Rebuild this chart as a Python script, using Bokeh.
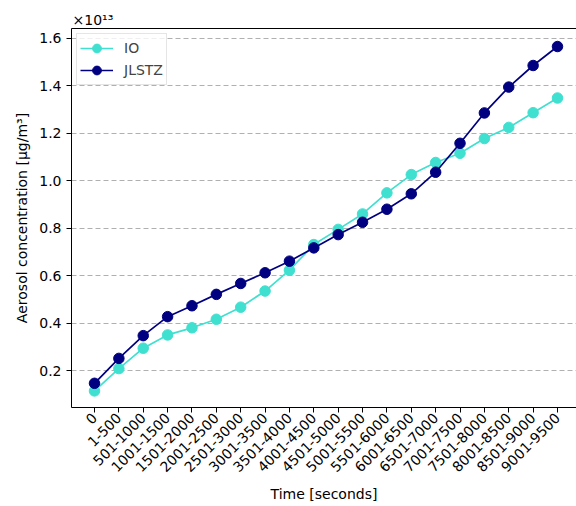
import math
from bokeh.plotting import figure
from bokeh.models import (Range1d, FixedTicker, LinearAxis, Title, Legend, LegendItem,
                          CustomJSTickFormatter)
from bokeh.embed import file_html
from bokeh.resources import INLINE

# ---- data (values in units of 1e13 µg/m³) ----
categories = ["0", "1-500", "501-1000", "1001-1500", "1501-2000", "2001-2500",
              "2501-3000", "3001-3500", "3501-4000", "4001-4500", "4501-5000",
              "5001-5500", "5501-6000", "6001-6500", "6501-7000", "7001-7500",
              "7501-8000", "8001-8500", "8501-9000", "9001-9500"]
io_values = [0.114, 0.208, 0.294, 0.350, 0.380, 0.416, 0.467, 0.535, 0.623, 0.731,
             0.795, 0.860, 0.949, 1.026, 1.077, 1.116, 1.178, 1.225, 1.287, 1.349]
jlstz_values = [0.146, 0.251, 0.347, 0.427, 0.473, 0.521, 0.567, 0.612, 0.661, 0.717,
                0.773, 0.825, 0.880, 0.945, 1.036, 1.158, 1.286, 1.395, 1.486, 1.566]
y_ticks = [0.2, 0.4, 0.6, 0.8, 1.0, 1.2, 1.4, 1.6]
offset_text = "×10¹³"

xs = list(range(len(categories)))

FONT = "DejaVu Sans"
FS = "14px"

p = figure(width=576, height=506, output_backend="svg", toolbar_location=None,
           x_range=Range1d(-0.944, 19.78), y_range=Range1d(0.044, 1.642),
           min_border_left=71, min_border_top=28, min_border_right=0,
           min_border_bottom=99, title=None)
p.outline_line_color = None
p.background_fill_color = "white"
p.border_fill_color = "white"

# grid
p.xgrid.visible = False
p.ygrid.grid_line_color = "#b0b0b0"
p.ygrid.grid_line_dash = "5 3"
p.ygrid.grid_line_width = 1
p.ygrid.ticker = FixedTicker(ticks=y_ticks)

# axes
xa = p.xaxis[0]
xa.ticker = FixedTicker(ticks=xs)
xa.major_label_overrides = {i: c for i, c in enumerate(categories)}
xa.major_label_orientation = math.pi / 4
xa.axis_label = "Time [seconds]"
ya = p.yaxis[0]
ya.ticker = FixedTicker(ticks=y_ticks)
ya.formatter = CustomJSTickFormatter(code="return tick.toFixed(1);")
ya.axis_label = "Aerosol concentration [μg/m³]"
for ax in (xa, ya):
    ax.axis_line_color = "black"
    ax.axis_line_width = 1
    ax.major_tick_line_color = "black"
    ax.major_tick_in = 0
    ax.major_tick_out = 5
    ax.minor_tick_line_color = None
    ax.major_label_text_font = FONT
    ax.major_label_text_font_size = FS
    ax.major_label_text_color = "black"
    ax.axis_label_text_font = FONT
    ax.axis_label_text_font_size = FS
    ax.axis_label_text_font_style = "normal"
    ax.axis_label_text_color = "black"
xa.major_label_standoff = 3
xa.axis_label_standoff = 6
ya.major_label_standoff = 5
ya.axis_label_standoff = 6

# top spine
top = LinearAxis(ticker=FixedTicker(ticks=[]), major_tick_line_color=None,
                 minor_tick_line_color=None, major_label_text_font_size="0px",
                 major_tick_out=0, major_tick_in=0, major_label_standoff=0,
                 axis_line_color="black", axis_line_width=1)
p.add_layout(top, "above")

# offset (exponent) text
p.add_layout(Title(text=offset_text, align="left", text_font=FONT, text_font_size="14px",
                   text_font_style="normal", text_color="black", offset=1, standoff=2),
             "above")

# series
r_io_l = p.line(xs, io_values, line_color="#40E0D0", line_width=1.7)
r_io_s = p.scatter(xs, io_values, size=10.5, fill_color="#40E0D0", line_color="#40E0D0")
r_j_l = p.line(xs, jlstz_values, line_color="#000080", line_width=1.7)
r_j_s = p.scatter(xs, jlstz_values, size=10.5, fill_color="#000080", line_color="#000080")

legend = Legend(items=[LegendItem(label="IO", renderers=[r_io_l, r_io_s]),
                       LegendItem(label="JLSTZ", renderers=[r_j_l, r_j_s])],
                location="top_left", margin=5, padding=3, spacing=0,
                glyph_width=33, glyph_height=22, label_height=22, label_standoff=11,
                label_text_font=FONT, label_text_font_size=FS,
                border_line_color="#cccccc", border_line_width=1,
                background_fill_color="white", background_fill_alpha=0.8)
p.add_layout(legend)

open("out.html", "w").write(file_html(p, INLINE))
